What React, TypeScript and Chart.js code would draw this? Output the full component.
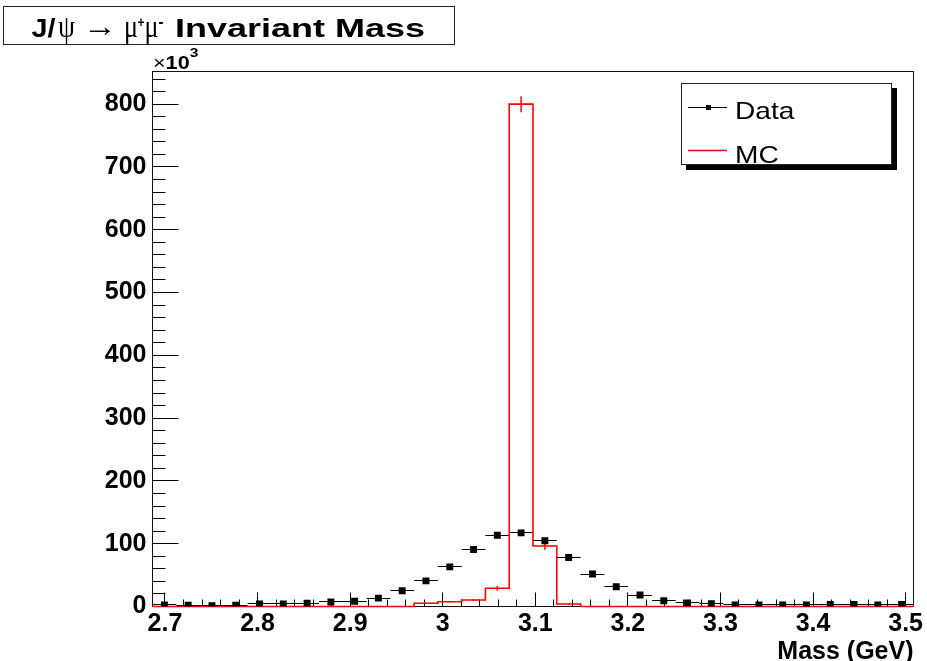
import React, { useEffect, useRef } from 'react';
import { Chart, registerables } from 'chart.js';

Chart.register(...registerables);

// ---- data (counts per bin) ----
const X_MIN = 2.6865;
const X_MAX = 3.5085;
const N_BINS = 32;
const Y_MAX = 852000;

const DATA_COUNTS = [
  2400, 1900, 1300, 1900, 4000, 4000, 5100, 7200, 8300, 13300,
  25000, 40800, 63100, 90700, 113400, 117300, 104600, 78000, 51700, 31500,
  18300, 9200, 5600, 4500, 2400, 2400, 2400, 2400, 3200, 3200,
  2400, 3200,
];

const MC_COUNTS = [
  0, 0, 0, 0, 0, 0, 0, 0, 0, 0,
  0, 5100, 7600, 10300, 29000, 800000, 96300, 4000, 0, 0,
  0, 0, 0, 0, 0, 0, 0, 0, 0, 0,
  0, 0,
];

const MC_ERRORS = [
  0, 0, 0, 0, 0, 0, 0, 0, 0, 0,
  0, 1000, 1100, 1500, 3700, 12700, 5800, 1200, 0, 0,
  0, 0, 0, 0, 0, 0, 0, 0, 0, 0,
  0, 0,
];

const X_TICK_VALUES = [2.7, 2.8, 2.9, 3.0, 3.1, 3.2, 3.3, 3.4, 3.5];
const X_TICK_LABELS = ['2.7', '2.8', '2.9', '3', '3.1', '3.2', '3.3', '3.4', '3.5'];
const Y_TICK_VALUES = [0, 100000, 200000, 300000, 400000, 500000, 600000, 700000, 800000];

const LEGEND_LABELS = ['Data', 'MC'];

const SANS = '"Liberation Sans", Arial, Helvetica, sans-serif';
const SERIF = '"Liberation Serif", "DejaVu Serif", serif';

const BIN_W = (X_MAX - X_MIN) / N_BINS;
const EDGES = Array.from({ length: N_BINS + 1 }, (_, i) => X_MIN + i * BIN_W);
const CENTERS = Array.from({ length: N_BINS }, (_, i) => X_MIN + (i + 0.5) * BIN_W);

type Seg = { t: string; f: string; dy?: number; x?: number; w?: number };

function drawSegs(ctx: CanvasRenderingContext2D, segs: Seg[], x0: number, baseline: number, sxDefault: number) {
  let x = x0;
  segs.forEach((s) => {
    ctx.save();
    ctx.font = s.f;
    const w = ctx.measureText(s.t).width;
    const sx = s.w ? s.w / w : sxDefault;
    const px = s.x !== undefined ? s.x : x;
    ctx.translate(px, baseline + (s.dy || 0));
    ctx.scale(sx, 1);
    ctx.textBaseline = 'alphabetic';
    ctx.textAlign = 'left';
    ctx.fillText(s.t, 0, 0);
    ctx.restore();
    x = px + w * sx;
  });
}

const rootPlugin = {
  id: 'rootDecor',
  beforeDatasetsDraw(chart: any) {
    const ctx: CanvasRenderingContext2D = chart.ctx;
    const xs = chart.scales.x;
    const ys = chart.scales.y;
    const { left, right, top, bottom } = chart.chartArea;
    ctx.save();
    // frame
    ctx.strokeStyle = '#111';
    ctx.lineWidth = 1;
    ctx.strokeRect(left, top, right - left, bottom - top);
    // x ticks (inside)
    ctx.strokeStyle = '#000';
    for (let k = 0; k <= 40; k++) {
      const v = 2.7 + k * 0.02;
      const px = Math.floor(xs.getPixelForValue(v)) + 0.5;
      const len = k % 5 === 0 ? 14 : 7;
      ctx.beginPath();
      ctx.moveTo(px, bottom);
      ctx.lineTo(px, bottom - len);
      ctx.stroke();
    }
    // y ticks (inside)
    for (let k = 0; k <= 42; k++) {
      const v = k * 20000;
      const py = Math.floor(ys.getPixelForValue(v)) + 0.5;
      const len = k % 5 === 0 ? 26 : 13;
      ctx.beginPath();
      ctx.moveTo(left, py);
      ctx.lineTo(left + len, py);
      ctx.stroke();
    }
    // data horizontal error bars (bin width)
    ctx.strokeStyle = '#000';
    ctx.lineWidth = 1;
    DATA_COUNTS.forEach((v, i) => {
      const py = Math.floor(ys.getPixelForValue(v)) + 0.5;
      ctx.beginPath();
      ctx.moveTo(xs.getPixelForValue(EDGES[i]), py);
      ctx.lineTo(xs.getPixelForValue(EDGES[i + 1]), py);
      ctx.stroke();
    });
    // MC vertical error bars
    ctx.strokeStyle = '#ff0000';
    ctx.lineWidth = 1.5;
    MC_COUNTS.forEach((v, i) => {
      const e = MC_ERRORS[i];
      if (!e) return;
      const px = xs.getPixelForValue(CENTERS[i]);
      ctx.beginPath();
      ctx.moveTo(px, ys.getPixelForValue(v - e));
      ctx.lineTo(px, ys.getPixelForValue(v + e));
      ctx.stroke();
    });
    ctx.restore();
  },
  afterDraw(chart: any) {
    const ctx: CanvasRenderingContext2D = chart.ctx;
    ctx.save();
    // title box
    ctx.fillStyle = '#fff';
    ctx.fillRect(3.5, 6.5, 451, 38);
    ctx.strokeStyle = '#222';
    ctx.lineWidth = 1;
    ctx.strokeRect(3.5, 6.5, 451, 38);
    ctx.fillStyle = '#000';
    drawSegs(ctx, [
      { t: 'J/', f: `bold 25px ${SANS}`, x: 31.5, w: 24 },
      { t: 'ψ', f: `31px ${SERIF}`, x: 58, w: 17 },
      { t: '\u2192', f: `30px ${SERIF}`, x: 83, w: 34, dy: -1 },
      { t: 'μ', f: `31px ${SERIF}`, x: 124, w: 14 },
      { t: '+', f: `bold 15px ${SANS}`, dy: -10, x: 137.5, w: 7 },
      { t: 'μ', f: `31px ${SERIF}`, x: 144.5, w: 14 },
      { t: '-', f: `bold 16px ${SANS}`, dy: -10, x: 158.5, w: 5 },
      { t: 'Invariant Mass', f: `bold 25px ${SANS}`, x: 175, w: 250 },
    ], 31.5, 37, 1);

    // x10^3
    drawSegs(ctx, [
      { t: '×', f: `18px ${SANS}` },
      { t: '10', f: `bold 18px ${SANS}` },
      { t: '3', f: `bold 13px ${SANS}`, dy: -12 },
    ], 153, 68.5, 1.2);

    // legend
    ctx.fillStyle = '#000';
    ctx.fillRect(686, 88, 211, 82);
    ctx.fillStyle = '#fff';
    ctx.fillRect(681, 83, 211, 82);
    ctx.strokeStyle = '#222';
    ctx.lineWidth = 1;
    ctx.strokeRect(681.5, 83.5, 210, 81);
    // Data entry
    ctx.strokeStyle = '#000';
    ctx.beginPath();
    ctx.moveTo(688, 107.5);
    ctx.lineTo(727, 107.5);
    ctx.stroke();
    ctx.fillStyle = '#000';
    ctx.fillRect(706, 105, 5, 5);
    // MC entry
    ctx.strokeStyle = '#ff0000';
    ctx.lineWidth = 1.5;
    ctx.beginPath();
    ctx.moveTo(688, 150.5);
    ctx.lineTo(727, 150.5);
    ctx.stroke();
    ctx.fillStyle = '#000';
    drawSegs(ctx, [{ t: LEGEND_LABELS[0], f: `24px ${SANS}` }], 735, 118.5, 1.17);
    drawSegs(ctx, [{ t: LEGEND_LABELS[1], f: `24px ${SANS}` }], 735, 162.5, 1.17);
    ctx.restore();
  },
};

export default function App() {
  const ref = useRef<HTMLCanvasElement | null>(null);

  useEffect(() => {
    if (!ref.current) return;
    const dataPoints = DATA_COUNTS.map((v, i) => ({ x: CENTERS[i], y: v }));
    const mcPoints = MC_COUNTS.map((v, i) => ({ x: EDGES[i], y: v }));
    mcPoints.push({ x: EDGES[N_BINS], y: MC_COUNTS[N_BINS - 1] });

    const tickFont = { family: SANS, size: 25, weight: 'bold' as const };

    const chart = new Chart(ref.current, {
      type: 'scatter',
      data: {
        datasets: [
          {
            type: 'scatter',
            label: LEGEND_LABELS[0],
            data: dataPoints,
            pointStyle: 'rect',
            pointRadius: 4.9,
            backgroundColor: '#000',
            borderColor: '#000',
            borderWidth: 0,
            showLine: false,
          } as any,
          {
            type: 'line',
            label: LEGEND_LABELS[1],
            data: mcPoints,
            stepped: true,
            borderColor: '#ff0000',
            borderWidth: 1.6,
            pointRadius: 0,
            fill: false,
            showLine: true,
            clip: 4,
          } as any,
        ],
      },
      options: {
        responsive: false,
        animation: false,
        devicePixelRatio: 1,
        layout: { padding: { left: 0, right: 13.5, top: 71.5, bottom: 0 } },
        plugins: {
          legend: { display: false },
          title: { display: false },
          tooltip: { enabled: false },
        },
        scales: {
          x: {
            type: 'linear',
            min: X_MIN,
            max: X_MAX,
            afterBuildTicks: (s: any) => {
              s.ticks = X_TICK_VALUES.map((v) => ({ value: v }));
            },
            afterFit: (s: any) => {
              s.height = 54.5;
            },
            ticks: {
              callback: (_v: any, i: number) => X_TICK_LABELS[i],
              font: tickFont,
              color: '#000',
              padding: 3,
              maxRotation: 0,
              autoSkip: false,
            },
            grid: { display: false, drawTicks: false },
            border: { display: false },
            title: {
              display: true,
              text: 'Mass (GeV)',
              align: 'end',
              color: '#000',
              font: { family: SANS, size: 25, weight: 'bold', lineHeight: 0.7 },
              padding: 0,
            },
          },
          y: {
            type: 'linear',
            min: 0,
            max: Y_MAX,
            afterBuildTicks: (s: any) => {
              s.ticks = Y_TICK_VALUES.map((v) => ({ value: v }));
            },
            afterFit: (s: any) => {
              s.width = 152.5;
            },
            ticks: {
              callback: (v: any) => String(Math.round(Number(v) / 1000)),
              font: tickFont,
              color: '#000',
              padding: 6,
              autoSkip: false,
            },
            grid: { display: false, drawTicks: false },
            border: { display: false },
          },
        },
      } as any,
      plugins: [rootPlugin],
    });
    return () => chart.destroy();
  }, []);

  return (
    <div style={{ position: 'absolute', left: 0, top: 0, width: 927, height: 661, background: '#fff' }}>
      <canvas ref={ref} width={927} height={661} style={{ display: 'block' }} />
    </div>
  );
}
